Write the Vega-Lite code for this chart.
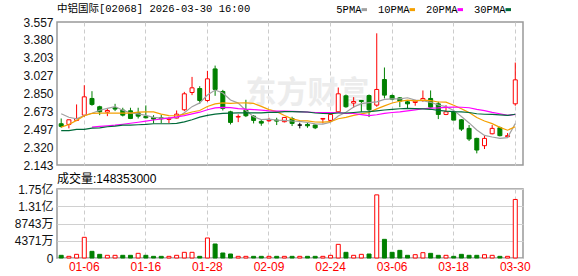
{
  "$schema": "https://vega.github.io/schema/vega-lite/v6.json",
  "background": "white",
  "padding": {"left": 12, "top": 2, "right": 5, "bottom": 4},
  "spacing": 0,
  "config": {
    "font": "Liberation Sans, Noto Sans CJK SC",
    "view": {"stroke": "#999999", "strokeWidth": 1.5},
    "axis": {"labelFont": "Liberation Sans, Noto Sans CJK SC", "labelFontSize": 12, "labelColor": "#111111", "ticks": false, "domain": false, "title": null, "gridColor": "#d0d0d0", "gridWidth": 1, "labelOverlap": false},
    "title": {"fontWeight": "normal", "color": "#000000", "anchor": "start", "frame": "group"}
  },
  "datasets": {
    "k": [
      {"d":"12-31","o":2.551,"h":2.603,"l":2.511,"c":2.525,"k":"down","v":6800000,"vk":"down","5PMA":2.650,"10PMA":2.518,"20PMA":null,"30PMA":2.482},
      {"d":"01-02","o":2.544,"h":2.590,"l":2.505,"c":2.590,"k":"up","v":4200000,"vk":"up","5PMA":2.615,"10PMA":2.544,"20PMA":null,"30PMA":2.482},
      {"d":"01-05","o":2.584,"h":2.742,"l":2.577,"c":2.603,"k":"up","v":9300000,"vk":"up","5PMA":2.600,"10PMA":2.584,"20PMA":null,"30PMA":2.495},
      {"d":"01-06","o":2.636,"h":2.932,"l":2.620,"c":2.817,"k":"up","v":52400000,"vk":"up","5PMA":2.632,"10PMA":2.630,"20PMA":null,"30PMA":2.495},
      {"d":"01-07","o":2.801,"h":2.873,"l":2.729,"c":2.742,"k":"down","v":16900000,"vk":"down","5PMA":2.655,"10PMA":2.653,"20PMA":2.518,"30PMA":2.508},
      {"d":"01-08","o":2.719,"h":2.729,"l":2.636,"c":2.669,"k":"down","v":9300000,"vk":"down","5PMA":2.684,"10PMA":2.656,"20PMA":2.524,"30PMA":2.511},
      {"d":"01-09","o":2.666,"h":2.702,"l":2.626,"c":2.682,"k":"up","v":6800000,"vk":"up","5PMA":2.703,"10PMA":2.656,"20PMA":2.530,"30PMA":2.521},
      {"d":"01-12","o":2.709,"h":2.748,"l":2.676,"c":2.696,"k":"down","v":6800000,"vk":"up","5PMA":2.721,"10PMA":2.656,"20PMA":2.537,"30PMA":2.528},
      {"d":"01-13","o":2.686,"h":2.709,"l":2.623,"c":2.636,"k":"down","v":6800000,"vk":"down","5PMA":2.685,"10PMA":2.656,"20PMA":2.546,"30PMA":2.538},
      {"d":"01-14","o":2.679,"h":2.709,"l":2.597,"c":2.603,"k":"down","v":6800000,"vk":"down","5PMA":2.657,"10PMA":2.656,"20PMA":2.556,"30PMA":2.538},
      {"d":"01-15","o":2.659,"h":2.709,"l":2.603,"c":2.626,"k":"down","v":11800000,"vk":"up","5PMA":2.649,"10PMA":2.666,"20PMA":2.566,"30PMA":2.541},
      {"d":"01-16","o":2.623,"h":2.732,"l":2.603,"c":2.610,"k":"down","v":6800000,"vk":"down","5PMA":2.634,"10PMA":2.668,"20PMA":2.577,"30PMA":2.544},
      {"d":"01-19","o":2.613,"h":2.636,"l":2.554,"c":2.597,"k":"down","v":4200000,"vk":"down","5PMA":2.614,"10PMA":2.668,"20PMA":2.588,"30PMA":2.551},
      {"d":"01-20","o":2.610,"h":2.640,"l":2.557,"c":2.600,"k":"down","v":4200000,"vk":"down","5PMA":2.607,"10PMA":2.646,"20PMA":2.598,"30PMA":2.551},
      {"d":"01-21","o":2.594,"h":2.617,"l":2.557,"c":2.603,"k":"up","v":4200000,"vk":"up","5PMA":2.607,"10PMA":2.632,"20PMA":2.607,"30PMA":2.551},
      {"d":"01-22","o":2.607,"h":2.682,"l":2.603,"c":2.646,"k":"up","v":6800000,"vk":"up","5PMA":2.611,"10PMA":2.630,"20PMA":2.618,"30PMA":2.554},
      {"d":"01-23","o":2.689,"h":2.866,"l":2.676,"c":2.847,"k":"up","v":14400000,"vk":"up","5PMA":2.659,"10PMA":2.646,"20PMA":2.632,"30PMA":2.570},
      {"d":"01-26","o":2.860,"h":3.014,"l":2.834,"c":2.906,"k":"up","v":14400000,"vk":"up","5PMA":2.720,"10PMA":2.667,"20PMA":2.648,"30PMA":2.590},
      {"d":"01-27","o":2.899,"h":2.922,"l":2.748,"c":2.781,"k":"down","v":4200000,"vk":"down","5PMA":2.757,"10PMA":2.682,"20PMA":2.665,"30PMA":2.616},
      {"d":"01-28","o":2.781,"h":3.074,"l":2.768,"c":2.995,"k":"up","v":50700000,"vk":"up","5PMA":2.835,"10PMA":2.721,"20PMA":2.689,"30PMA":2.633},
      {"d":"01-29","o":3.093,"h":3.126,"l":2.827,"c":2.890,"k":"down","v":35500000,"vk":"down","5PMA":2.884,"10PMA":2.748,"20PMA":2.707,"30PMA":2.646},
      {"d":"01-30","o":2.870,"h":2.886,"l":2.682,"c":2.702,"k":"down","v":12700000,"vk":"down","5PMA":2.855,"10PMA":2.757,"20PMA":2.713,"30PMA":2.653},
      {"d":"02-02","o":2.669,"h":2.679,"l":2.544,"c":2.564,"k":"down","v":10100000,"vk":"down","5PMA":2.786,"10PMA":2.753,"20PMA":2.711,"30PMA":2.656},
      {"d":"02-03","o":2.617,"h":2.643,"l":2.567,"c":2.623,"k":"up","v":4200000,"vk":"up","5PMA":2.755,"10PMA":2.756,"20PMA":2.701,"30PMA":2.659},
      {"d":"02-04","o":2.686,"h":2.788,"l":2.617,"c":2.630,"k":"down","v":4200000,"vk":"up","5PMA":2.682,"10PMA":2.758,"20PMA":2.695,"30PMA":2.659},
      {"d":"02-05","o":2.626,"h":2.636,"l":2.554,"c":2.584,"k":"down","v":4200000,"vk":"down","5PMA":2.621,"10PMA":2.752,"20PMA":2.691,"30PMA":2.659},
      {"d":"02-06","o":2.574,"h":2.597,"l":2.531,"c":2.557,"k":"down","v":4200000,"vk":"down","5PMA":2.592,"10PMA":2.723,"20PMA":2.685,"30PMA":2.659},
      {"d":"02-09","o":2.580,"h":2.610,"l":2.571,"c":2.587,"k":"up","v":4200000,"vk":"up","5PMA":2.596,"10PMA":2.691,"20PMA":2.679,"30PMA":2.663},
      {"d":"02-10","o":2.587,"h":2.610,"l":2.538,"c":2.577,"k":"down","v":4200000,"vk":"down","5PMA":2.587,"10PMA":2.671,"20PMA":2.676,"30PMA":2.663},
      {"d":"02-11","o":2.571,"h":2.617,"l":2.564,"c":2.613,"k":"up","v":4200000,"vk":"up","5PMA":2.584,"10PMA":2.633,"20PMA":2.677,"30PMA":2.670},
      {"d":"02-12","o":2.603,"h":2.620,"l":2.528,"c":2.554,"k":"down","v":4200000,"vk":"down","5PMA":2.578,"10PMA":2.599,"20PMA":2.673,"30PMA":2.671},
      {"d":"02-13","o":2.538,"h":2.561,"l":2.505,"c":2.538,"k":"flat","v":4200000,"vk":"up","5PMA":2.574,"10PMA":2.583,"20PMA":2.670,"30PMA":2.669},
      {"d":"02-16","o":2.544,"h":2.564,"l":2.511,"c":2.531,"k":"down","v":4200000,"vk":"down","5PMA":2.563,"10PMA":2.579,"20PMA":2.666,"30PMA":2.667},
      {"d":"02-20","o":2.538,"h":2.544,"l":2.498,"c":2.511,"k":"down","v":4200000,"vk":"down","5PMA":2.549,"10PMA":2.568,"20PMA":2.662,"30PMA":2.657},
      {"d":"02-23","o":2.597,"h":2.603,"l":2.554,"c":2.603,"k":"up","v":4200000,"vk":"up","5PMA":2.547,"10PMA":2.566,"20PMA":2.662,"30PMA":2.652},
      {"d":"02-24","o":2.584,"h":2.650,"l":2.577,"c":2.643,"k":"up","v":6800000,"vk":"up","5PMA":2.565,"10PMA":2.571,"20PMA":2.662,"30PMA":2.651},
      {"d":"02-25","o":2.669,"h":2.909,"l":2.663,"c":2.847,"k":"up","v":34600000,"vk":"up","5PMA":2.627,"10PMA":2.600,"20PMA":2.662,"30PMA":2.657},
      {"d":"02-26","o":2.827,"h":2.840,"l":2.709,"c":2.719,"k":"down","v":14400000,"vk":"down","5PMA":2.665,"10PMA":2.614,"20PMA":2.652,"30PMA":2.657},
      {"d":"02-27","o":2.755,"h":2.814,"l":2.709,"c":2.771,"k":"up","v":6800000,"vk":"up","5PMA":2.717,"10PMA":2.633,"20PMA":2.652,"30PMA":2.662},
      {"d":"03-02","o":2.781,"h":2.781,"l":2.669,"c":2.771,"k":"down","v":9300000,"vk":"up","5PMA":2.750,"10PMA":2.649,"20PMA":2.641,"30PMA":2.668},
      {"d":"03-03","o":2.830,"h":2.840,"l":2.617,"c":2.689,"k":"down","v":10100000,"vk":"down","5PMA":2.759,"10PMA":2.662,"20PMA":2.631,"30PMA":2.670},
      {"d":"03-04","o":2.735,"h":3.445,"l":2.719,"c":2.890,"k":"up","v":160000000,"vk":"up","5PMA":2.768,"10PMA":2.698,"20PMA":2.640,"30PMA":2.679},
      {"d":"03-05","o":2.988,"h":3.107,"l":2.801,"c":2.834,"k":"down","v":47300000,"vk":"down","5PMA":2.791,"10PMA":2.728,"20PMA":2.654,"30PMA":2.687},
      {"d":"03-06","o":2.830,"h":2.840,"l":2.784,"c":2.794,"k":"down","v":14400000,"vk":"down","5PMA":2.796,"10PMA":2.756,"20PMA":2.662,"30PMA":2.693},
      {"d":"03-09","o":2.807,"h":2.814,"l":2.715,"c":2.775,"k":"down","v":19400000,"vk":"down","5PMA":2.796,"10PMA":2.773,"20PMA":2.669,"30PMA":2.699},
      {"d":"03-10","o":2.768,"h":2.781,"l":2.702,"c":2.748,"k":"down","v":6800000,"vk":"down","5PMA":2.808,"10PMA":2.784,"20PMA":2.678,"30PMA":2.702},
      {"d":"03-11","o":2.761,"h":2.788,"l":2.729,"c":2.774,"k":"up","v":8400000,"vk":"up","5PMA":2.785,"10PMA":2.777,"20PMA":2.688,"30PMA":2.700},
      {"d":"03-12","o":2.781,"h":2.880,"l":2.768,"c":2.801,"k":"up","v":13500000,"vk":"up","5PMA":2.778,"10PMA":2.785,"20PMA":2.699,"30PMA":2.697},
      {"d":"03-13","o":2.801,"h":2.880,"l":2.709,"c":2.715,"k":"down","v":11800000,"vk":"down","5PMA":2.763,"10PMA":2.779,"20PMA":2.706,"30PMA":2.694},
      {"d":"03-16","o":2.748,"h":2.768,"l":2.597,"c":2.643,"k":"down","v":6800000,"vk":"down","5PMA":2.736,"10PMA":2.766,"20PMA":2.708,"30PMA":2.683},
      {"d":"03-17","o":2.643,"h":2.735,"l":2.636,"c":2.669,"k":"up","v":6800000,"vk":"up","5PMA":2.720,"10PMA":2.764,"20PMA":2.713,"30PMA":2.675},
      {"d":"03-18","o":2.669,"h":2.676,"l":2.587,"c":2.587,"k":"down","v":4200000,"vk":"down","5PMA":2.683,"10PMA":2.734,"20PMA":2.716,"30PMA":2.671},
      {"d":"03-19","o":2.590,"h":2.597,"l":2.479,"c":2.498,"k":"down","v":9300000,"vk":"down","5PMA":2.622,"10PMA":2.700,"20PMA":2.714,"30PMA":2.669},
      {"d":"03-20","o":2.505,"h":2.538,"l":2.380,"c":2.400,"k":"down","v":6800000,"vk":"down","5PMA":2.559,"10PMA":2.661,"20PMA":2.709,"30PMA":2.662},
      {"d":"03-23","o":2.406,"h":2.413,"l":2.258,"c":2.291,"k":"down","v":6800000,"vk":"down","5PMA":2.489,"10PMA":2.613,"20PMA":2.693,"30PMA":2.650},
      {"d":"03-24","o":2.334,"h":2.433,"l":2.301,"c":2.406,"k":"up","v":8400000,"vk":"up","5PMA":2.436,"10PMA":2.578,"20PMA":2.681,"30PMA":2.645},
      {"d":"03-25","o":2.452,"h":2.538,"l":2.446,"c":2.505,"k":"up","v":6800000,"vk":"up","5PMA":2.420,"10PMA":2.552,"20PMA":2.664,"30PMA":2.643},
      {"d":"03-26","o":2.511,"h":2.524,"l":2.426,"c":2.433,"k":"down","v":4200000,"vk":"down","5PMA":2.407,"10PMA":2.515,"20PMA":2.650,"30PMA":2.638},
      {"d":"03-27","o":2.423,"h":2.459,"l":2.413,"c":2.433,"k":"up","v":4200000,"vk":"up","5PMA":2.414,"10PMA":2.487,"20PMA":2.633,"30PMA":2.633},
      {"d":"03-30","o":2.748,"h":3.156,"l":2.729,"c":2.985,"k":"up","v":148353000,"vk":"up","5PMA":2.552,"10PMA":2.521,"20PMA":2.644,"30PMA":2.645}
    ]
  },
  "resolve": {"scale": {"y": "independent"}, "axis": {"x": "independent", "y": "independent"}},
  "vconcat": [
    {
      "width": 466,
      "height": 143,
      "title": {"text": "中铝国际[02068] 2026-03-30 16:00", "font": "Liberation Mono, Noto Sans CJK SC", "fontSize": 10.5, "offset": 2},
      "data": {"name": "k"},
      "encoding": {
        "x": {"field": "d", "type": "ordinal", "sort": null,
          "scale": {"paddingInner": 0.35, "paddingOuter": 0.45, "align": 0.245},
          "axis": {"values": ["01-06","01-16","01-28","02-09","02-24","03-06","03-18","03-30"], "labels": false, "labelPadding": 0, "grid": true, "gridDash": [4, 3], "gridColor": "#cccccc", "bandPosition": 0.5}},
        "y": {"type": "quantitative", "scale": {"domain": [2.143, 3.557], "nice": false, "zero": false},
          "axis": {"values": [2.143, 2.320, 2.497, 2.673, 2.850, 3.027, 3.203, 3.380, 3.557], "format": ".3f", "labelPadding": 4, "minExtent": 44, "maxExtent": 44}}
      },
      "layer": [
        {
          "mark": {"type": "text", "fontSize": 31, "font": "Noto Sans CJK SC", "fontWeight": "bold", "color": "#ececec", "align": "center", "baseline": "middle"},
          "encoding": {"y": {"datum": 2.85}, "text": {"condition": {"test": "datum.d == '02-16'", "value": "东方财富"}, "value": ""}}
        },
        {
          "mark": {"type": "rule", "strokeWidth": 1},
          "encoding": {
            "y": {"field": "l"},
            "y2": {"field": "h"},
            "stroke": {"field": "k", "type": "nominal", "scale": {"domain": ["up", "down", "flat"], "range": ["#ff0000", "#008000", "#000000"]}, "legend": null}
          }
        },
        {
          "mark": {"type": "bar", "size": 4, "strokeWidth": 1},
          "encoding": {
            "y": {"field": "o"},
            "y2": {"field": "c"},
            "fill": {"field": "k", "type": "nominal", "scale": {"domain": ["up", "down", "flat"], "range": ["#ffffff", "#008000", "#000000"]}, "legend": null},
            "stroke": {"field": "k", "type": "nominal", "scale": {"domain": ["up", "down", "flat"], "range": ["#ff0000", "#008000", "#000000"]}, "legend": null}
          }
        },
        {
          "transform": [{"fold": ["5PMA", "10PMA", "20PMA", "30PMA"], "as": ["ma", "val"]}],
          "mark": {"type": "line", "strokeWidth": 1.2, "interpolate": "linear"},
          "encoding": {
            "y": {"field": "val"},
            "color": {"field": "ma", "type": "nominal",
              "scale": {"domain": ["5PMA", "10PMA", "20PMA", "30PMA"], "range": ["#a0a0a0", "#f5a000", "#ff00ff", "#006b3a"]},
              "legend": {"orient": "none", "legendX": 302, "legendY": -18, "direction": "horizontal", "title": null,
                "labelAlign": "right", "labelOffset": -8, "symbolType": "stroke", "symbolSize": 30, "symbolStrokeWidth": 3,
                "labelFont": "Liberation Mono", "labelFontSize": 10.5, "labelColor": "#000000", "columnPadding": 4, "padding": 0, "labelLimit": 200}}
          }
        }
      ]
    },
    {
      "width": 466,
      "height": 69,
      "title": {"text": "成交量:148353000", "fontSize": 12, "offset": -3},
      "data": {"name": "k"},
      "encoding": {
        "x": {"field": "d", "type": "ordinal", "sort": null,
          "scale": {"paddingInner": 0.35, "paddingOuter": 0.45, "align": 0.245},
          "axis": {"values": ["01-06","01-16","01-28","02-09","02-24","03-06","03-18","03-30"], "labelColor": "#ff0000", "labelAngle": 0, "labelPadding": 3, "grid": true, "gridDash": [4, 3], "gridColor": "#cccccc", "bandPosition": 0.5}}
      },
      "layer": [
        {
          "mark": {"type": "bar", "size": 4, "strokeWidth": 1},
          "encoding": {
            "y": {"field": "v", "type": "quantitative", "scale": {"domain": [0, 174860000], "nice": false},
              "axis": {"values": [0, 43715000, 87430000, 131145000, 174860000], "labelExpr": "datum.value == 0 ? '0' : datum.value < 100000000 ? floor(datum.value / 10000) + '万' : format(datum.value / 100000000, '.2f') + '亿'", "labelPadding": 4, "minExtent": 44, "maxExtent": 44}},
            "fill": {"field": "vk", "type": "nominal", "scale": {"domain": ["up", "down", "flat"], "range": ["#ffffff", "#008000", "#000000"]}, "legend": null},
            "stroke": {"field": "vk", "type": "nominal", "scale": {"domain": ["up", "down", "flat"], "range": ["#ff0000", "#008000", "#000000"]}, "legend": null}
          }
        }
      ]
    }
  ]
}
